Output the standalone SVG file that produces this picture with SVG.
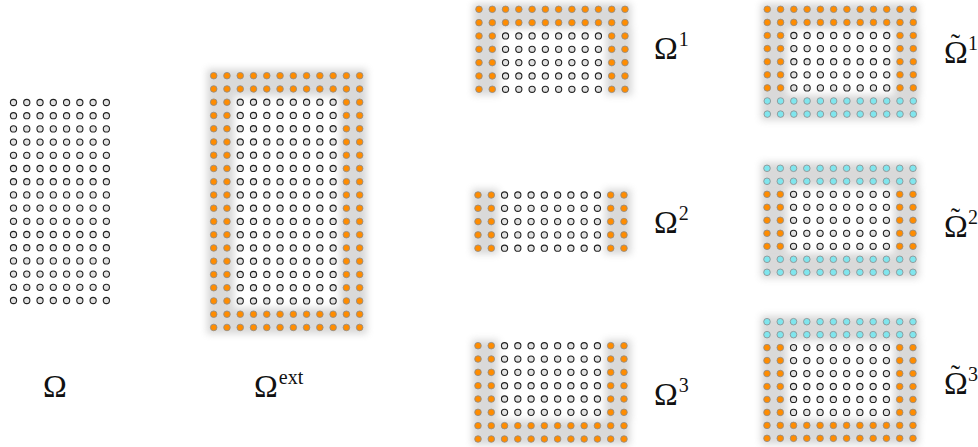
<svg xmlns="http://www.w3.org/2000/svg" width="978" height="447" viewBox="0 0 978 447">
<style>
.w{fill:#e2e2e2;stroke:#222;stroke-width:1.1}
.o{fill:#ff8c00;stroke:#8c8c8c;stroke-width:0.8}
.c{fill:#80e6ee;stroke:#8c8c8c;stroke-width:0.8}
.sh{opacity:0.32}
.sh rect{fill:#8a8a8a}
.lbl{font-family:"Liberation Serif","DejaVu Serif",serif;font-size:32px;fill:#111}
.sup{font-size:20px}
.til{font-size:28px}
</style>
<defs>
<filter id="blur" x="-20%" y="-20%" width="140%" height="140%"><feGaussianBlur stdDeviation="3.5"/></filter>
<g id="ro">
<circle class="o" cx="0" cy="0" r="3.3"/><circle class="o" cx="13.27" cy="0" r="3.3"/><circle class="o" cx="26.54" cy="0" r="3.3"/><circle class="o" cx="39.81" cy="0" r="3.3"/><circle class="o" cx="53.08" cy="0" r="3.3"/><circle class="o" cx="66.35" cy="0" r="3.3"/><circle class="o" cx="79.62" cy="0" r="3.3"/><circle class="o" cx="92.89" cy="0" r="3.3"/><circle class="o" cx="106.16" cy="0" r="3.3"/><circle class="o" cx="119.43" cy="0" r="3.3"/><circle class="o" cx="132.7" cy="0" r="3.3"/><circle class="o" cx="145.97" cy="0" r="3.3"/>
</g>
<g id="rc">
<circle class="c" cx="0" cy="0" r="3.3"/><circle class="c" cx="13.27" cy="0" r="3.3"/><circle class="c" cx="26.54" cy="0" r="3.3"/><circle class="c" cx="39.81" cy="0" r="3.3"/><circle class="c" cx="53.08" cy="0" r="3.3"/><circle class="c" cx="66.35" cy="0" r="3.3"/><circle class="c" cx="79.62" cy="0" r="3.3"/><circle class="c" cx="92.89" cy="0" r="3.3"/><circle class="c" cx="106.16" cy="0" r="3.3"/><circle class="c" cx="119.43" cy="0" r="3.3"/><circle class="c" cx="132.7" cy="0" r="3.3"/><circle class="c" cx="145.97" cy="0" r="3.3"/>
</g>
<g id="rw">
<circle class="w" cx="0" cy="0" r="3.1"/><circle class="w" cx="13.27" cy="0" r="3.1"/><circle class="w" cx="26.54" cy="0" r="3.1"/><circle class="w" cx="39.81" cy="0" r="3.1"/><circle class="w" cx="53.08" cy="0" r="3.1"/><circle class="w" cx="66.35" cy="0" r="3.1"/><circle class="w" cx="79.62" cy="0" r="3.1"/><circle class="w" cx="92.89" cy="0" r="3.1"/>
</g>
<g id="rm">
<circle class="o" cx="0" cy="0" r="3.3"/><circle class="o" cx="13.27" cy="0" r="3.3"/>
<use href="#rw" x="26.54"/>
<circle class="o" cx="132.7" cy="0" r="3.3"/><circle class="o" cx="145.97" cy="0" r="3.3"/>
</g>
</defs>
<rect width="978" height="447" fill="#fff"/>

<g id="omega">
<g transform="translate(13.5,0)">
<use href="#rw" y="102.5"/><use href="#rw" y="115.7"/><use href="#rw" y="128.9"/><use href="#rw" y="142.1"/><use href="#rw" y="155.3"/><use href="#rw" y="168.5"/><use href="#rw" y="181.7"/><use href="#rw" y="194.9"/><use href="#rw" y="208.1"/><use href="#rw" y="221.3"/><use href="#rw" y="234.5"/><use href="#rw" y="247.7"/><use href="#rw" y="260.9"/><use href="#rw" y="274.1"/><use href="#rw" y="287.3"/><use href="#rw" y="300.5"/>
</g>
<text class="lbl" x="43" y="397">Ω</text>
</g>

<g id="omega-ext">
<g class="sh" filter="url(#blur)">
<rect x="207" y="69" width="160" height="27"/><rect x="207" y="96" width="27" height="212"/><rect x="340" y="96" width="27" height="212"/><rect x="207" y="308" width="160" height="26"/>
</g>
<g transform="translate(213.7,0)">
<use href="#ro" y="75.7"/><use href="#ro" y="88.95"/>
<use href="#rm" y="102.2"/><use href="#rm" y="115.45"/><use href="#rm" y="128.7"/><use href="#rm" y="141.95"/><use href="#rm" y="155.2"/><use href="#rm" y="168.45"/><use href="#rm" y="181.7"/><use href="#rm" y="194.95"/><use href="#rm" y="208.2"/><use href="#rm" y="221.45"/><use href="#rm" y="234.7"/><use href="#rm" y="247.95"/><use href="#rm" y="261.2"/><use href="#rm" y="274.45"/><use href="#rm" y="287.7"/><use href="#rm" y="300.95"/>
<use href="#ro" y="314.2"/><use href="#ro" y="327.45"/>
</g>
<text class="lbl" x="254" y="397">Ω<tspan class="sup" dx="1" dy="-13">ext</tspan></text>
</g>

<g id="omega-1">
<g class="sh" filter="url(#blur)">
<rect x="473" y="3.3" width="158" height="25.3"/><rect x="473" y="28.6" width="26.3" height="66.7"/><rect x="605.7" y="28.6" width="26.3" height="66.7"/>
</g>
<g transform="translate(479,0)">
<use href="#ro" y="9.3"/><use href="#ro" y="22.63"/>
<use href="#rm" y="35.96"/><use href="#rm" y="49.29"/><use href="#rm" y="62.62"/><use href="#rm" y="75.95"/><use href="#rm" y="89.28"/>
</g>
<text class="lbl" x="654" y="59">Ω<tspan class="sup" dx="1" dy="-13">1</tspan></text>
</g>

<g id="omega-2">
<g class="sh" filter="url(#blur)">
<rect x="472" y="189" width="26.3" height="65.2"/><rect x="604.7" y="189" width="26.3" height="65.2"/>
</g>
<g transform="translate(478,0)">
<use href="#rm" y="195"/><use href="#rm" y="208.3"/><use href="#rm" y="221.6"/><use href="#rm" y="234.9"/><use href="#rm" y="248.2"/>
</g>
<text class="lbl" x="654" y="233">Ω<tspan class="sup" dx="1" dy="-13">2</tspan></text>
</g>

<g id="omega-3">
<g class="sh" filter="url(#blur)">
<rect x="472" y="339.7" width="26.3" height="80"/><rect x="604.7" y="339.7" width="26.3" height="80"/><rect x="472" y="419.7" width="158" height="25.3"/>
</g>
<g transform="translate(478,0)">
<use href="#rm" y="345.7"/><use href="#rm" y="359.03"/><use href="#rm" y="372.36"/><use href="#rm" y="385.69"/><use href="#rm" y="399.02"/><use href="#rm" y="412.35"/>
<use href="#ro" y="425.68"/><use href="#ro" y="439.01"/>
</g>
<text class="lbl" x="654" y="405">Ω<tspan class="sup" dx="1" dy="-13">3</tspan></text>
</g>

<g id="omega-tilde-1">
<g class="sh" filter="url(#blur)">
<rect x="761" y="3.3" width="158" height="25.3"/><rect x="761" y="28.6" width="26.3" height="66.4"/><rect x="893.7" y="28.6" width="26.3" height="66.4"/><rect x="761" y="95" width="158" height="25.3"/>
</g>
<g transform="translate(767.3,0)">
<use href="#ro" y="9.3"/><use href="#ro" y="22.4"/>
<use href="#rm" y="35.5"/><use href="#rm" y="48.6"/><use href="#rm" y="61.7"/><use href="#rm" y="74.8"/><use href="#rm" y="87.9"/>
<use href="#rc" y="101"/><use href="#rc" y="114.1"/>
</g>
<text class="lbl" x="944" y="63">Ω<tspan class="til" dx="-17" dy="-10">˜</tspan><tspan class="sup" dx="8" dy="-3">1</tspan></text>
</g>

<g id="omega-tilde-2">
<g class="sh" filter="url(#blur)">
<rect x="761" y="162.3" width="158" height="25"/><rect x="761" y="187.3" width="26.3" height="66"/><rect x="893.7" y="187.3" width="26.3" height="66"/><rect x="761" y="253.3" width="158" height="25"/>
</g>
<g transform="translate(767,0)">
<use href="#rc" y="168.3"/><use href="#rc" y="181.3"/>
<use href="#rm" y="194.3"/><use href="#rm" y="207.3"/><use href="#rm" y="220.3"/><use href="#rm" y="233.3"/><use href="#rm" y="246.3"/>
<use href="#rc" y="259.3"/><use href="#rc" y="272.3"/>
</g>
<text class="lbl" x="944" y="237">Ω<tspan class="til" dx="-17" dy="-10">˜</tspan><tspan class="sup" dx="8" dy="-3">2</tspan></text>
</g>

<g id="omega-tilde-3">
<g class="sh" filter="url(#blur)">
<rect x="761" y="315.7" width="158" height="25"/><rect x="761" y="340.7" width="26.3" height="78.7"/><rect x="893.7" y="340.7" width="26.3" height="78.7"/><rect x="761" y="419.4" width="158" height="25"/>
</g>
<g transform="translate(767,0)">
<use href="#rc" y="321.7"/><use href="#rc" y="334.66"/>
<use href="#rm" y="347.62"/><use href="#rm" y="360.58"/><use href="#rm" y="373.54"/><use href="#rm" y="386.5"/><use href="#rm" y="399.46"/><use href="#rm" y="412.42"/>
<use href="#ro" y="425.38"/><use href="#ro" y="438.34"/>
</g>
<text class="lbl" x="944" y="394">Ω<tspan class="til" dx="-17" dy="-10">˜</tspan><tspan class="sup" dx="8" dy="-3">3</tspan></text>
</g>
</svg>
